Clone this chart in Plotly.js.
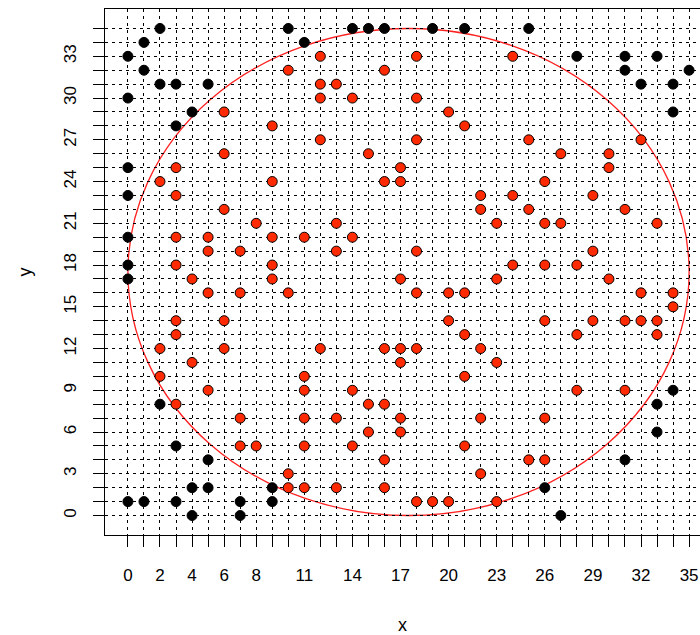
<!DOCTYPE html>
<html>
<head>
<meta charset="utf-8">
<script src="https://cdn.plot.ly/plotly-3.0.1.min.js"></script>
<style>html,body{margin:0;padding:0;background:#fff;}#chart{width:700px;height:635px;}</style>
</head>
<body>
<div id="chart"></div>
<script>
// Points inside the circle (red fill)
const redX = [12,18,24, 10,16, 12,13, 12,14,18, 6,20, 9,21, 12,18,25,32, 6,15,27,30, 3,17,30,
  2,9,16,17,26, 3,22,24,29, 6,22,25,31, 8,13,23,26,27,33, 3,5,9,11,14, 5,7,13,18,29,
  3,9,24,26,28, 4,9,17,23,30, 5,7,10,18,20,21,32,34, 34, 3,6,20,26,29,31,32,33,
  3,21,28,33, 2,6,12,16,17,18,22, 4,17,23, 2,11,21, 5,11,14,28,31, 3,15,16,
  7,11,13,17,22,26, 15,17, 7,8,11,14,21, 16,25,26, 10,22, 10,11,13,16, 18,19,20,23];
const redY = [33,33,33, 32,32, 31,31, 30,30,30, 29,29, 28,28, 27,27,27,27, 26,26,26,26, 25,25,25,
  24,24,24,24,24, 23,23,23,23, 22,22,22,22, 21,21,21,21,21,21, 20,20,20,20,20, 19,19,19,19,19,
  18,18,18,18,18, 17,17,17,17,17, 16,16,16,16,16,16,16,16, 15, 14,14,14,14,14,14,14,14,
  13,13,13,13, 12,12,12,12,12,12,12, 11,11,11, 10,10,10, 9,9,9,9,9, 8,8,8,
  7,7,7,7,7,7, 6,6, 5,5,5,5,5, 4,4,4, 3,3, 2,2,2,2, 1,1,1,1];

// Points outside the circle (black fill)
const blackX = [2,10,14,15,16,19,21,25, 1,11, 0,28,31,33, 1,31,35, 2,3,5,32,34, 0, 4,34, 3,
  0, 0, 0, 0, 0, 34, 2,33, 33, 3, 5,31, 4,5,9,26, 0,1,3,7,9, 4,7,27];
const blackY = [35,35,35,35,35,35,35,35, 34,34, 33,33,33,33, 32,32,32, 31,31,31,31,31, 30, 29,29, 28,
  25, 23, 20, 18, 17, 9, 8,8, 6, 5, 4,4, 2,2,2,2, 1,1,1,1,1, 0,0,0];

// Circle
const circleCenter = [17.5, 17.5];
const circleRadius = 17.5;

// Axis ticks and labels
const gridVals = Array.from({length: 36}, (_, i) => i);
const xLabelVals = [0,2,4,6,8,11,14,17,20,23,26,29,32,35];
const yLabelVals = [0,3,6,9,12,15,18,21,24,27,30,33];

const xText = gridVals.map(v => xLabelVals.includes(v) ? String(v) : '');
const yText = gridVals.map(v => yLabelVals.includes(v) ? String(v) : '');

const FONT = 'Liberation Sans, Arial, sans-serif';

const traces = [
  {
    x: blackX, y: blackY, type: 'scatter', mode: 'markers',
    marker: {size: 10, color: '#000000', line: {color: '#000000', width: 1}},
    hoverinfo: 'x+y', showlegend: false
  },
  {
    x: redX, y: redY, type: 'scatter', mode: 'markers',
    marker: {size: 10, color: '#FF2A00', line: {color: '#000000', width: 1}},
    hoverinfo: 'x+y', showlegend: false
  }
];

const axisCommon = {
  tickmode: 'array',
  tickvals: gridVals,
  ticks: 'outside',
  ticklen: 11,
  tickwidth: 1,
  tickcolor: '#000',
  showgrid: true,
  gridcolor: '#000',
  gridwidth: 1,
  griddash: '3px,4px',
  zeroline: false,
  showline: true,
  linecolor: '#000',
  linewidth: 1,
  tickfont: {family: FONT, size: 17, color: '#000'}
};

const layout = {
  width: 700, height: 635,
  margin: {l: 105, r: 0, t: 9, b: 100},
  paper_bgcolor: '#fff', plot_bgcolor: '#fff',
  font: {family: FONT, size: 17, color: '#000'},
  xaxis: Object.assign({}, axisCommon, {
    range: [-1.43, 35.68],
    ticktext: xText,
    mirror: true,
    ticklabelstandoff: 14,
    title: {text: 'x', font: {family: FONT, size: 18, color: '#000'}, standoff: 36}
  }),
  yaxis: Object.assign({}, axisCommon, {
    range: [-1.4, 36.4],
    ticktext: yText,
    tickangle: -90,
    ticklabelstandoff: 10,
    title: {text: 'y', font: {family: FONT, size: 18, color: '#000'}, standoff: 24}
  }),
  shapes: [{
    type: 'circle', xref: 'x', yref: 'y',
    x0: circleCenter[0] - circleRadius, x1: circleCenter[0] + circleRadius,
    y0: circleCenter[1] - circleRadius, y1: circleCenter[1] + circleRadius,
    line: {color: '#FF2020', width: 1.3},
    layer: 'below'
  }]
};

Plotly.newPlot('chart', traces, layout, {staticPlot: true, displayModeBar: false});
</script>
</body>
</html>
